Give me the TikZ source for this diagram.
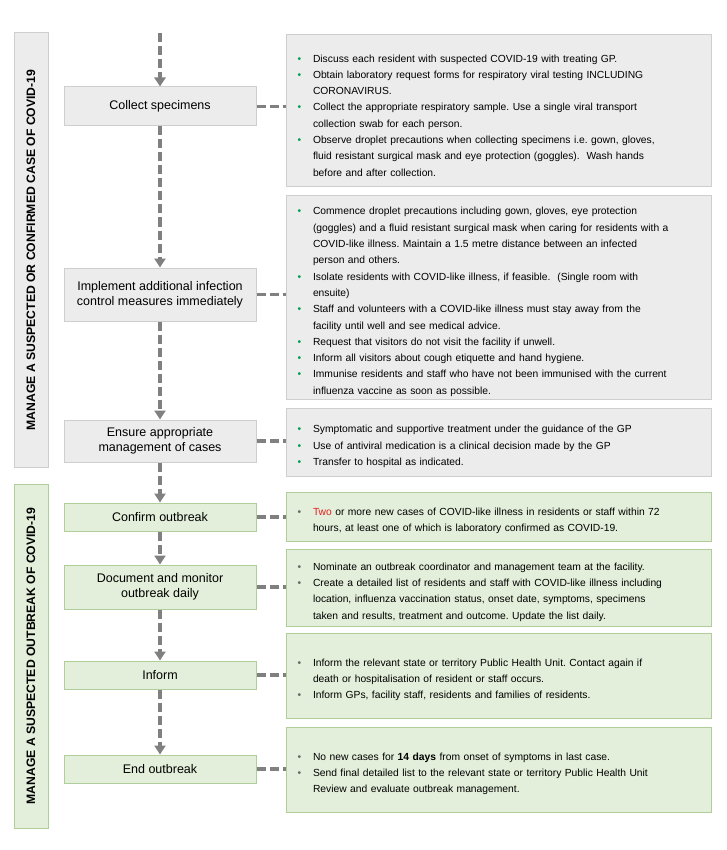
\documentclass[tikz,border=0pt]{standalone}
\usepackage{fontspec}
\setmainfont{Liberation Sans}
\usepackage{xcolor}
\usepackage{tikz}
\usetikzlibrary{arrows.meta,positioning}
\definecolor{flowgray}{RGB}{236,236,236}
\definecolor{flowgrayline}{RGB}{206,206,206}
\definecolor{flowgreen}{RGB}{227,239,218}
\definecolor{flowgreenline}{RGB}{176,206,154}
\definecolor{flowarrow}{RGB}{128,128,128}
\definecolor{dotgreen}{RGB}{0,160,80}
\definecolor{dotgray}{RGB}{105,105,105}
\definecolor{txtred}{RGB}{228,30,30}
\colorlet{bcol}{dotgreen}
\frenchspacing
\newcommand{\itm}[1]{\par\noindent\hangindent=24.5pt\hangafter=1\makebox[24.5pt][l]{\hspace{9pt}\textcolor{bcol}{\textbullet}}#1\par}

\begin{document}
\begin{tikzpicture}[x=1pt,y=-1pt,
    sidebox/.style={draw=flowgrayline,fill=flowgray,line width=1pt,rotate=90,minimum height=34pt,inner sep=0pt,font=\fontsize{12.2}{14}\selectfont\bfseries},
    stepbox/.style={draw=flowgrayline,fill=flowgray,line width=1pt,minimum width=192pt,inner sep=0pt,align=center,font=\fontsize{12.5}{15}\selectfont},
    notebox/.style={draw=flowgrayline,fill=flowgray,line width=1pt,text width=420pt,inner xsep=2.5pt,inner ysep=0pt,align=left,font=\fontsize{10.3}{16.3}\selectfont,execute at begin node={\colorlet{bcol}{dotgreen}}},
    greenside/.style={sidebox,draw=flowgreenline,fill=flowgreen},
    greenstep/.style={stepbox,draw=flowgreenline,fill=flowgreen},
    greennote/.style={notebox,draw=flowgreenline,fill=flowgreen,execute at begin node={\colorlet{bcol}{dotgray}}},
    flow/.style={draw=flowarrow,line width=3.5pt,dash pattern=on 9pt off 4pt,-{Triangle[width=11pt,length=9pt]}},
    link/.style={draw=flowarrow,line width=3.5pt,dash pattern=on 9pt off 4pt}]
  \useasboundingbox[fill=white] (0,0) rectangle (726,850);

  \node[sidebox,minimum width=434pt] (side1) at (31,250) {MANAGE A SUSPECTED OR CONFIRMED CASE OF COVID-19};
  \node[greenside,minimum width=344pt] (side2) at (31,656) {MANAGE A SUSPECTED OUTBREAK OF COVID-19};

  \node[stepbox,minimum height=39pt] (collect) at (160,106.5) {Collect specimens};
  \node[stepbox,minimum height=53pt] (implement) at (160,294.5) {Implement additional infection\\control measures immediately};
  \node[stepbox,minimum height=42pt] (ensure) at (160,441) {Ensure appropriate\\management of cases};
  \node[greenstep,minimum height=28pt] (confirm) at (160,517) {Confirm outbreak};
  \node[greenstep,minimum height=44pt] (document) at (160,587) {Document and monitor\\outbreak daily};
  \node[greenstep,minimum height=28pt] (inform) at (160,675) {Inform};
  \node[greenstep,minimum height=28pt] (endob) at (160,769) {End outbreak};

  \node[notebox,minimum height=152pt] (n1) at (498.5,111) {%
    \itm{Discuss each resident with suspected COVID-19 with treating GP.}%
    \itm{Obtain laboratory request forms for respiratory viral testing INCLUDING\newline CORONAVIRUS.}%
    \itm{Collect the appropriate respiratory sample. Use a single viral transport\newline collection swab for each person.}%
    \itm{Observe droplet precautions when collecting specimens i.e. gown, gloves,\newline fluid resistant surgical mask and eye protection (goggles).\ \ Wash hands\newline before and after collection.}};
  \node[notebox,minimum height=203pt] (n2) at (498.5,297.5) {%
    \itm{Commence droplet precautions including gown, gloves, eye protection\newline (goggles) and a fluid resistant surgical mask when caring for residents with a\newline COVID-like illness. Maintain a 1.5 metre distance between an infected\newline person and others.}%
    \itm{Isolate residents with COVID-like illness, if feasible.\ \ (Single room with\newline ensuite)}%
    \itm{Staff and volunteers with a COVID-like illness must stay away from the\newline facility until well and see medical advice.}%
    \itm{Request that visitors do not visit the facility if unwell.}%
    \itm{Inform all visitors about cough etiquette and hand hygiene.}%
    \itm{Immunise residents and staff who have not been immunised with the current\newline influenza vaccine as soon as possible.}};
  \node[notebox,minimum height=68pt] (n3) at (498.5,442) {%
    \itm{Symptomatic and supportive treatment under the guidance of the GP}%
    \itm{Use of antiviral medication is a clinical decision made by the GP}%
    \itm{Transfer to hospital as indicated.}};
  \node[greennote,minimum height=49pt] (n4) at (498.5,516.5) {%
    \itm{\textcolor{txtred}{Two} or more new cases of COVID-like illness in residents or staff within 72\newline hours, at least one of which is laboratory confirmed as COVID-19.}};
  \node[greennote,minimum height=77pt] (n5) at (498.5,587.5) {%
    \itm{Nominate an outbreak coordinator and management team at the facility.}%
    \itm{Create a detailed list of residents and staff with COVID-like illness including\newline location, influenza vaccination status, onset date, symptoms, specimens\newline taken and results, treatment and outcome. Update the list daily.}};
  \node[greennote,minimum height=85pt] (n6) at (498.5,675.5) {%
    \itm{Inform the relevant state or territory Public Health Unit. Contact again if\newline death or hospitalisation of resident or staff occurs.}%
    \itm{Inform GPs, facility staff, residents and families of residents.}};
  \node[greennote,minimum height=85pt] (n7) at (498.5,769.5) {%
    \itm{No new cases for \textbf{14 days} from onset of symptoms in last case.}%
    \itm{Send final detailed list to the relevant state or territory Public Health Unit\newline Review and evaluate outbreak management.}};

  \coordinate (start) at (160,33);
  \draw[flow] (start) -- (collect);
  \foreach \a/\b in {collect/implement,implement/ensure,ensure/confirm,confirm/document,document/inform,inform/endob}
    \draw[flow] (\a) -- (\b);
  \foreach \a/\b in {collect/n1,implement/n2,ensure/n3,confirm/n4,document/n5,inform/n6,endob/n7}
    \draw[link] (\a.east) -- (\a.east -| \b.west);
\end{tikzpicture}
\end{document}
